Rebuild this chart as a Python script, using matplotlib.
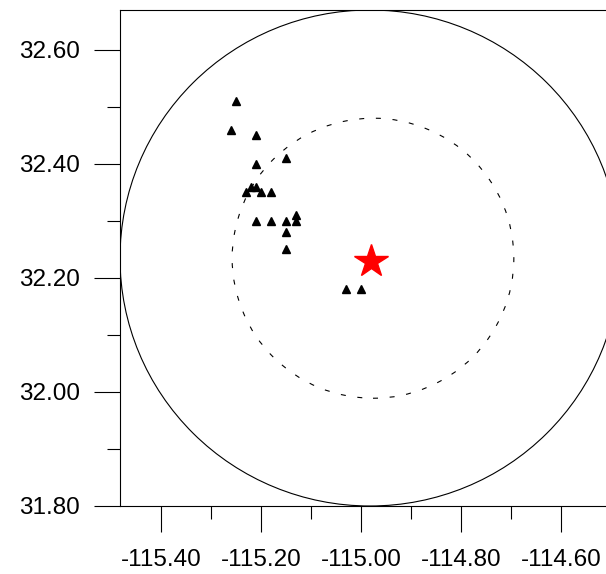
import matplotlib
matplotlib.use("Agg")
import matplotlib.pyplot as plt
from matplotlib.patches import Ellipse
from matplotlib.ticker import MultipleLocator

plt.rcParams['font.family'] = ['Liberation Sans', 'DejaVu Sans']

# aftershock epicentres (lon, lat)
quake_lon = [-115.25, -115.26, -115.21, -115.15, -115.21, -115.22, -115.21,
             -115.23, -115.20, -115.18, -115.21, -115.18, -115.15, -115.13,
             -115.13, -115.15, -115.15, -115.03, -115.00]
quake_lat = [32.51, 32.46, 32.45, 32.41, 32.40, 32.36, 32.36,
             32.35, 32.35, 32.35, 32.30, 32.30, 32.30, 32.30,
             32.31, 32.28, 32.25, 32.18, 32.18]

# main shock
main_lon = -114.98
main_lat = 32.229

# distance rings: centre and radii (deg lon, deg lat)
outer_center = (-114.982, 32.235)
outer_radius = (0.500, 0.435)
inner_center = (-114.976, 32.2346)
inner_radius = (0.2817, 0.2456)

xticks = [-115.40, -115.20, -115.00, -114.80, -114.60]
yticks = [31.80, 32.00, 32.20, 32.40, 32.60]

fig = plt.figure(figsize=(6.06, 5.74), dpi=100)
ax = fig.add_axes([120 / 606, 68 / 574, 520 / 606, 496 / 574])

ax.add_patch(Ellipse(outer_center, 2 * outer_radius[0], 2 * outer_radius[1],
                     fill=False, color="black", lw=0.8))
ax.add_patch(Ellipse(inner_center, 2 * inner_radius[0], 2 * inner_radius[1],
                     fill=False, color="black", lw=0.8, linestyle=(0, (4.5, 10.5))))

ax.plot(quake_lon, quake_lat, "^", color="black", markersize=5.5, linestyle="none")
ax.plot(main_lon, main_lat, "*", color="red", markersize=25, linestyle="none")

ax.set_xlim(-115.482, -114.442)
ax.set_ylim(31.80, 32.670)
ax.set_xticks(xticks)
ax.set_yticks(yticks)
ax.set_xticklabels([f"{v:.2f}" for v in xticks])
ax.set_yticklabels([f"{v:.2f}" for v in yticks])
ax.xaxis.set_minor_locator(MultipleLocator(0.1))
ax.yaxis.set_minor_locator(MultipleLocator(0.1))
ax.tick_params(which="major", direction="out", length=19, width=0.8,
               labelsize=17.5, pad=10)
ax.tick_params(which="minor", direction="out", length=9.5, width=0.8)
ax.tick_params(axis="x", which="major", pad=12)
ax.spines["right"].set_visible(False)
for s in ["left", "bottom", "top"]:
    ax.spines[s].set_linewidth(0.8)

fig.savefig("out.png", dpi=100)
